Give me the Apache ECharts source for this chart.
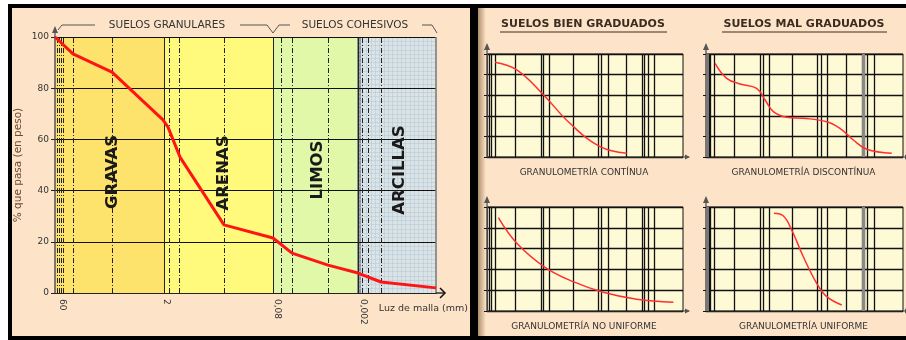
<!DOCTYPE html>
<html>
<head>
<meta charset="utf-8">
<script src="https://cdn.jsdelivr.net/npm/echarts@6/dist/echarts.min.js"></script>
<style>
html,body{margin:0;padding:0;background:#fff;}
#chart{width:906px;height:340px;}
</style>
</head>
<body>
<div id="chart"></div>
<script>
// curva principal: posicion en el eje esquematico de tamices / % que pasa
var curvaX = [0, 18, 57, 108, 113, 125, 169, 218, 237, 273, 303, 326, 381];
var curvaY = [100, 93.4, 86.3, 67.6, 64.8, 53.1, 26.6, 21.5, 15.6, 10.9, 7.8, 4.3, 2.0];
var zonas = ['GRAVAS', 'ARENAS', 'LIMOS', 'ARCILLAS'];
var limitesZona = [0, 109, 218, 303, 381];
var tamices = ['60', '2', '0,08', '0,002'];
var posTamiz = [7, 111, 222, 308];
var lineasTamiz = [2, 4, 6, 8, 18, 57, 114, 124, 169, 226, 237, 273, 307, 313, 326];
var lineasLimite = [109, 218, 303];

// curvas tipo (graficos pequeños), escala 0-100
var continuaX = [4.1, 15.2, 28.5, 42.3, 57.7, 71.3];
var continuaY = [91.9, 84.5, 61.0, 32.7, 10.0, 3.6];
var discontinuaX = [4.6, 10.5, 17.3, 25.7, 30.0, 34.2, 41.0, 49.4, 61.3, 68.0, 74.8, 81.6, 94.3];
var discontinuaY = [91.0, 76.4, 70.9, 66.7, 55.3, 44.0, 38.5, 37.6, 34.3, 27.9, 16.5, 7.5, 3.6];
var noUniformeX = [5.8, 15.2, 29.6, 44.0, 59.3, 76.4, 95.1];
var noUniformeY = [89.7, 65.1, 42.0, 28.2, 18.0, 11.3, 8.4];
var uniformeX = [34.5, 39.3, 43.5, 49.4, 56.2, 61.3, 68.9];
var uniformeY = [93.9, 91.3, 77.9, 52.2, 26.6, 13.8, 5.8];
var lineasMini = [1.4, 2.4, 4.4, 14.5, 27.7, 28.9, 32, 43.9, 56.6, 58.3, 61.7, 71.1, 79.3, 80.4, 82.1, 85.5];

var titulosMini = ['GRANULOMETRÍA CONTÍNUA', 'GRANULOMETRÍA DISCONTÍNUA', 'GRANULOMETRÍA NO UNIFORME', 'GRANULOMETRÍA UNIFORME'];

var coloresZona = ['#fde26c', '#fffa7c', '#e0f8a8', '#dce3e4'];
var peach = '#fde4c8';

function zip(xs, ys) {
	return xs.map(function(x, i) { return [x, ys[i]]; });
}

var myChart = echarts.init(document.getElementById('chart'));

var miniGrids = [
	{left: 487, top: 54, width: 196, height: 103},
	{left: 706, top: 54, width: 197, height: 103},
	{left: 487, top: 207, width: 196, height: 104},
	{left: 706, top: 207, width: 197, height: 104}
];
var miniCurvas = [zip(continuaX, continuaY), zip(discontinuaX, discontinuaY), zip(noUniformeX, noUniformeY), zip(uniformeX, uniformeY)];

var grids = [
	{left: 55, top: 37, width: 381, height: 256},
	{left: 358, top: 37, width: 78, height: 256}
];
var xAxes = [
	{
		gridIndex: 0, type: 'value', min: 0, max: 381, z: 3,
		axisLine: {lineStyle: {color: '#222', width: 1.2}},
		axisTick: {show: false},
		splitLine: {show: false},
		axisLabel: {
			customValues: posTamiz,
			formatter: function(v) { return tamices[posTamiz.indexOf(v)]; },
			rotate: -90, fontSize: 9, color: '#333', margin: 6, fontFamily: 'DejaVu Sans'
		},
		name: 'Luz de malla (mm)', nameLocation: 'end', nameGap: 32,
		nameTextStyle: {align: 'right', verticalAlign: 'top', padding: [11, 0, 0, 0], fontSize: 9.5, color: '#333', fontFamily: 'DejaVu Sans'}
	},
	{
		gridIndex: 1, type: 'value', min: 0, max: 18, interval: 1, z: 2,
		axisLine: {show: false}, axisTick: {show: false}, axisLabel: {show: false},
		splitLine: {lineStyle: {color: '#b4cbdc', width: 0.6}}
	}
];
var yAxes = [
	{
		gridIndex: 0, type: 'value', min: 0, max: 100, interval: 20, z: 3,
		axisLine: {show: true, lineStyle: {color: '#555', width: 1.5}},
		axisTick: {show: true, length: 4, lineStyle: {color: '#222'}},
		axisLabel: {fontSize: 9, color: '#333', margin: 6, fontFamily: 'DejaVu Sans'},
		splitLine: {lineStyle: {color: '#111', width: 1}},
		name: '% que pasa (en peso)', nameLocation: 'middle', nameGap: 31,
		nameTextStyle: {color: '#6b4a36', fontSize: 10.5, fontFamily: 'DejaVu Sans'}
	},
	{
		gridIndex: 1, type: 'value', min: 0, max: 60, interval: 1, z: 2,
		axisLine: {show: false}, axisTick: {show: false}, axisLabel: {show: false},
		splitLine: {lineStyle: {color: '#b4cbdc', width: 0.6}}
	}
];

var markAreaData = zonas.map(function(z, i) {
	return [{xAxis: limitesZona[i], itemStyle: {color: coloresZona[i]}}, {xAxis: limitesZona[i + 1]}];
});
// banda gris del limite 0,002
markAreaData.push([{xAxis: 302, itemStyle: {color: '#8d9699'}}, {xAxis: 306}]);

var markLineData = lineasTamiz.map(function(v) {
	return {xAxis: v, lineStyle: {type: [5, 2, 1, 2], color: '#222', width: 1}};
});
lineasLimite.forEach(function(v) {
	markLineData.push({xAxis: v, lineStyle: {type: 'solid', color: '#222', width: 1}});
});
markLineData.push({xAxis: 381, lineStyle: {type: 'solid', color: '#7a7a7a', width: 1.5}});

var series = [
	{
		type: 'line', xAxisIndex: 0, yAxisIndex: 0, data: [], silent: true,
		markArea: {silent: true, z: 1, data: markAreaData},
		markLine: {silent: true, z: 4, symbol: 'none', label: {show: false}, data: markLineData}
	},
	{type: 'line', xAxisIndex: 1, yAxisIndex: 1, data: [], silent: true},
	{
		type: 'line', xAxisIndex: 0, yAxisIndex: 0, z: 6, data: zip(curvaX, curvaY),
		symbol: 'none', lineStyle: {color: '#ff1414', width: 3}, silent: true
	}
];

miniGrids.forEach(function(g, k) {
	var idx = k + 2;
	grids.push({left: g.left, top: g.top, width: g.width, height: g.height, show: true,
		backgroundColor: '#fffad6', borderColor: '#111', borderWidth: 1});
	xAxes.push({gridIndex: idx, type: 'value', min: 0, max: 100, z: 1,
		axisLine: {lineStyle: {color: '#222'}}, axisTick: {show: false}, axisLabel: {show: false}, splitLine: {show: false}});
	yAxes.push({gridIndex: idx, type: 'value', min: 0, max: 100, interval: 20, z: 1,
		axisLine: {show: true, lineStyle: {color: '#444', width: 1.2}},
		axisTick: {show: true, length: 3, lineStyle: {color: '#111'}},
		axisLabel: {show: false},
		splitLine: {lineStyle: {color: '#111', width: 1.4}}});
	var ml = lineasMini.map(function(v) { return {xAxis: v}; });
	if (k % 2 == 1) {
		ml.push({xAxis: 0.8, lineStyle: {color: '#777', width: 3}});
		ml.push({xAxis: 79.8, lineStyle: {color: '#888', width: 3}});
	}
	series.push({
		type: 'line', xAxisIndex: idx, yAxisIndex: idx, data: [], silent: true,
		markLine: {silent: true, z: 3, symbol: 'none', label: {show: false},
			lineStyle: {type: 'solid', color: '#111', width: 1.3}, data: ml}
	});
	series.push({
		type: 'line', xAxisIndex: idx, yAxisIndex: idx, z: 6, data: miniCurvas[k], smooth: 0.4,
		symbol: 'none', lineStyle: {color: '#ff3030', width: 1.5}, silent: true
	});
});

function flechaArriba(x, y) {
	return [
		{type: 'line', z: 100, shape: {x1: x, y1: y, x2: x, y2: y - 9}, style: {stroke: '#555', lineWidth: 1.3}},
		{type: 'polygon', z: 100, shape: {points: [[x - 3, y - 4], [x, y - 11], [x + 3, y - 4]]}, style: {fill: '#555'}}
	];
}
function flechaDerecha(x, y) {
	return [
		{type: 'line', z: 100, shape: {x1: x, y1: y, x2: x + 6, y2: y}, style: {stroke: '#555', lineWidth: 1.2}},
		{type: 'polygon', z: 100, shape: {points: [[x + 2, y - 2.5], [x + 7, y], [x + 2, y + 2.5]]}, style: {fill: '#555'}}
	];
}

var txt = function(text, x, y, font, color, rot) {
	return {type: 'text', z: 100, x: x, y: y, rotation: rot || 0,
		style: {text: text, font: font, fill: color, align: 'center', verticalAlign: 'middle'}};
};

var graficos = [
	{type: 'rect', z: -10, shape: {x: 8, y: 4, width: 898, height: 336}, style: {fill: '#000'}},
	{type: 'rect', z: -9, shape: {x: 12, y: 8, width: 458, height: 328}, style: {fill: peach}},
	{type: 'rect', z: -9, shape: {x: 478, y: 8, width: 428, height: 328}, style: {fill: peach}},
	{type: 'rect', z: -8, shape: {x: 478, y: 8, width: 8, height: 328}, style: {fill: new echarts.graphic.LinearGradient(0, 0, 1, 0, [
		{offset: 0, color: 'rgba(110,70,30,0.55)'}, {offset: 1, color: 'rgba(110,70,30,0)'}])}},
	// llaves de encabezado
	{type: 'polyline', z: 100, shape: {points: [[58, 30], [62, 25], [95, 25]]}, style: {stroke: '#555', lineWidth: 1, fill: null}},
	{type: 'polyline', z: 100, shape: {points: [[240, 25], [267, 25], [273, 33], [279, 25], [290, 25]]}, style: {stroke: '#555', lineWidth: 1, fill: null}},
	{type: 'polyline', z: 100, shape: {points: [[422, 25], [432, 25], [437, 33]]}, style: {stroke: '#555', lineWidth: 1, fill: null}},
	txt('SUELOS GRANULARES', 167, 25, '10.5px "DejaVu Sans"', '#333'),
	txt('SUELOS COHESIVOS', 355, 25, '10.5px "DejaVu Sans"', '#333'),
	// flecha eje x principal
	{type: 'line', z: 100, shape: {x1: 436, y1: 293, x2: 445, y2: 293}, style: {stroke: '#111', lineWidth: 1.3}},
	{type: 'polyline', z: 100, shape: {points: [[440, 288], [445, 293], [440, 298]]}, style: {stroke: '#111', lineWidth: 1.5, fill: null}},
	// titulos del panel derecho
	txt('SUELOS BIEN GRADUADOS', 583, 24, 'bold 11px "DejaVu Sans"', '#3a2c20'),
	txt('SUELOS MAL GRADUADOS', 804, 24, 'bold 11px "DejaVu Sans"', '#3a2c20'),
	{type: 'line', z: 100, shape: {x1: 500, y1: 32, x2: 667, y2: 32}, style: {stroke: '#3a2c20', lineWidth: 1}},
	{type: 'line', z: 100, shape: {x1: 722, y1: 32, x2: 887, y2: 32}, style: {stroke: '#3a2c20', lineWidth: 1}}
];
graficos = graficos.concat(flechaArriba(55, 37));
zonas.forEach(function(z, i) {
	var cx = [113, 224, 318, 400][i], cy = [172, 173, 170, 170][i];
	graficos.push(txt(z, cx, cy, 'bold 16.5px "DejaVu Sans"', '#1a1a1a', Math.PI / 2));
});
miniGrids.forEach(function(g, k) {
	graficos = graficos.concat(flechaArriba(g.left, g.top));
	graficos = graficos.concat(flechaDerecha(g.left + g.width, g.top + g.height));
	graficos.push(txt(titulosMini[k], g.left + g.width / 2 - 1, g.top + g.height + 16, '9px "DejaVu Sans"', '#333'));
});

var option = {
	backgroundColor: '#fff',
	animation: false,
	grid: grids,
	xAxis: xAxes,
	yAxis: yAxes,
	series: series,
	graphic: graficos
};
myChart.setOption(option);
</script>
</body>
</html>
